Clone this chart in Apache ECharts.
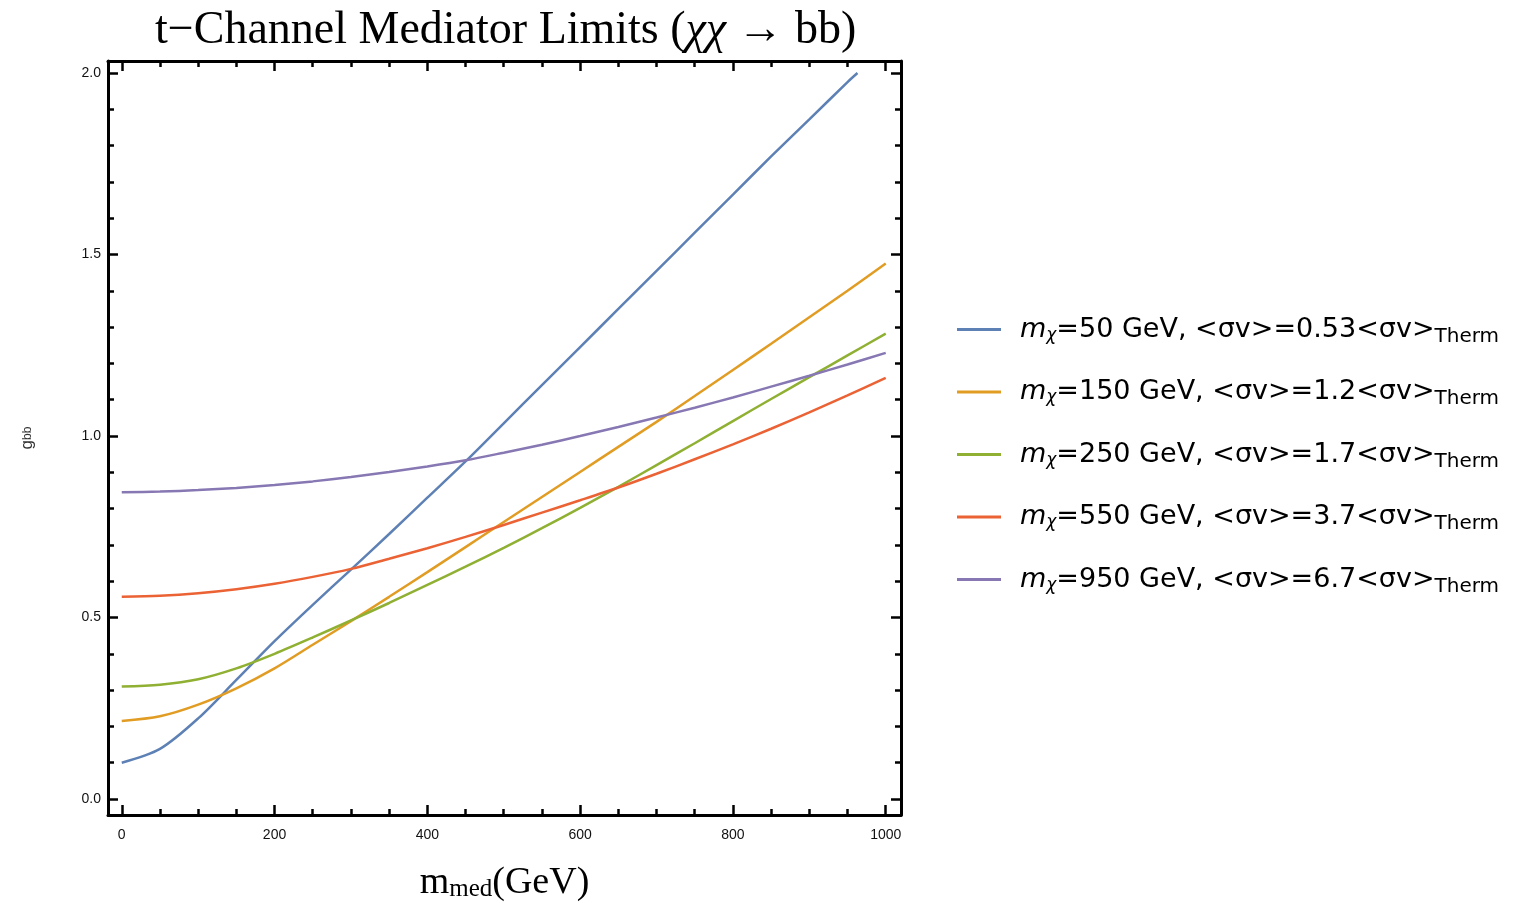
<!DOCTYPE html>
<html>
<head>
<meta charset="utf-8">
<title>t-Channel Mediator Limits</title>
<script src="https://cdn.jsdelivr.net/npm/echarts@6/dist/echarts.min.js"></script>
<style>
  html, body { margin: 0; padding: 0; background: #fff; }
  #chart { width: 1531px; height: 903px; }
</style>
</head>
<body>
<div id="chart"></div>
<script>
// m_med values (GeV)
var mMed = [0, 50, 100, 150, 200, 250, 300, 350, 400, 450, 500, 550, 600, 650, 700, 750, 800, 850, 900, 950, 1000];
// the mx=50 curve stops at the top of the frame
var mMedBlue = [0, 50, 100, 150, 200, 250, 300, 350, 400, 450, 500, 550, 600, 650, 700, 750, 800, 850, 900, 950, 963];

var g50  = [0.10, 0.138, 0.222, 0.328, 0.435, 0.535, 0.632, 0.73, 0.83, 0.93, 1.035, 1.14, 1.245, 1.35, 1.455, 1.56, 1.665, 1.77, 1.872, 1.975, 2.0];
var g150 = [0.215, 0.228, 0.26, 0.305, 0.36, 0.425, 0.49, 0.557, 0.625, 0.694, 0.763, 0.832, 0.901, 0.97, 1.039, 1.11, 1.182, 1.254, 1.327, 1.40, 1.475];
var g250 = [0.31, 0.315, 0.33, 0.36, 0.40, 0.445, 0.492, 0.54, 0.59, 0.64, 0.692, 0.746, 0.802, 0.86, 0.92, 0.98, 1.041, 1.102, 1.162, 1.222, 1.282];
var g550 = [0.557, 0.56, 0.567, 0.578, 0.593, 0.612, 0.634, 0.662, 0.691, 0.722, 0.755, 0.789, 0.823, 0.858, 0.896, 0.936, 0.977, 1.02, 1.065, 1.112, 1.16];
var g950 = [0.845, 0.847, 0.851, 0.857, 0.865, 0.875, 0.887, 0.901, 0.916, 0.933, 0.954, 0.976, 1.0, 1.025, 1.051, 1.078, 1.106, 1.136, 1.166, 1.197, 1.229];

var mChi = ['50', '150', '250', '550', '950'];
var sigmaRatio = ['0.53', '1.2', '1.7', '3.7', '6.7'];
var colors = ['#5E81B5', '#E19C24', '#8FB032', '#EB6235', '#8778B3'];

var xMajor = [0, 200, 400, 600, 800, 1000];
var xMinor = [50, 100, 150, 250, 300, 350, 450, 500, 550, 650, 700, 750, 850, 900, 950];
var yMajor = [0, 0.5, 1.0, 1.5, 2.0];
var yMinor = [0.1, 0.2, 0.3, 0.4, 0.6, 0.7, 0.8, 0.9, 1.1, 1.2, 1.3, 1.4, 1.6, 1.7, 1.8, 1.9];

function pairs(xs, ys) {
    var out = [];
    for (var i = 0; i < xs.length; i++) out.push([xs[i], ys[i]]);
    return out;
}

var curves = [
    pairs(mMedBlue, g50),
    pairs(mMed, g150),
    pairs(mMed, g250),
    pairs(mMed, g550),
    pairs(mMed, g950)
];

var names = mChi.map(function (m) { return 'mx' + m; });

var series = curves.map(function (d, i) {
    return {
        name: names[i],
        type: 'line',
        data: d,
        smooth: 0.3,
        showSymbol: false,
        xAxisIndex: 0,
        yAxisIndex: 0,
        lineStyle: { color: colors[i], width: 2.5 },
        itemStyle: { color: colors[i] }
    };
});

var XMIN = -18, XMAX = 1020, YMIN = -0.044, YMAX = 2.033;
var SANS = 'Arial, Liberation Sans, sans-serif';
var SERIF = 'Liberation Serif, Times New Roman, serif';

function xAx(pos, major, showLine) {
    return {
        type: 'value', position: pos, min: XMIN, max: XMAX,
        axisLine: { show: showLine, onZero: false, lineStyle: { color: '#000', width: 3 } },
        axisTick: { show: true, inside: true, length: major ? 10 : 6,
                    customValues: major ? xMajor : xMinor,
                    lineStyle: { color: '#000', width: 2.5 } },
        axisLabel: (pos === 'bottom' && major) ? {
            show: true, customValues: xMajor, margin: 13,
            fontFamily: SANS, fontSize: 14, color: '#111',
            formatter: function (v) { return String(v); }
        } : { show: false },
        splitLine: { show: false }
    };
}
function yAx(pos, major, showLine) {
    return {
        type: 'value', position: pos, min: YMIN, max: YMAX,
        axisLine: { show: showLine, onZero: false, lineStyle: { color: '#000', width: 3 } },
        axisTick: { show: true, inside: true, length: major ? 10 : 6,
                    customValues: major ? yMajor : yMinor,
                    lineStyle: { color: '#000', width: 2.5 } },
        axisLabel: (pos === 'left' && major) ? {
            show: true, customValues: yMajor, margin: 7,
            fontFamily: SANS, fontSize: 14, color: '#111',
            formatter: function (v) { return v.toFixed(1); }
        } : { show: false },
        splitLine: { show: false }
    };
}

var xAxes = [xAx('bottom', true, true), xAx('bottom', false, false), xAx('top', true, true), xAx('top', false, false)];
xAxes[0].name = '{m|m}{s|med}{m|(GeV)}';
xAxes[0].nameLocation = 'middle';
xAxes[0].nameGap = 48;
xAxes[0].nameTextStyle = {
    rich: {
        m: { fontFamily: SERIF, fontSize: 38, color: '#000', height: 40, verticalAlign: 'middle' },
        s: { fontFamily: SERIF, fontSize: 25, color: '#000', height: 40, verticalAlign: 'bottom', padding: [0, 0, -6, 0] }
    }
};

var yAxes = [yAx('left', true, true), yAx('left', false, false), yAx('right', true, true), yAx('right', false, false)];
yAxes[0].name = 'g{s|bb}';
yAxes[0].nameLocation = 'middle';
yAxes[0].nameRotate = 90;
yAxes[0].nameGap = 72;
yAxes[0].nameTextStyle = {
    fontFamily: SANS, fontSize: 17, color: '#333',
    rich: { s: { fontFamily: SANS, fontSize: 12, color: '#333' } }
};

var option = {
    backgroundColor: '#fff',
    animation: false,
    title: {
        text: '{n|t\u2212Channel Mediator Limits (}{i|\u03c7\u03c7}{n| \u2192 bb)}',
        left: 150,
        top: 3,
        textStyle: {
            fontWeight: 'normal',
            rich: {
                n: { fontFamily: SERIF, fontSize: 46, fontWeight: 'normal', color: '#000' },
                i: { fontFamily: SERIF, fontSize: 46, fontWeight: 'normal', fontStyle: 'italic', color: '#000' }
            }
        }
    },
    grid: { left: 108, right: 630, top: 61, bottom: 88, containLabel: false, outerBoundsMode: 'none' },
    xAxis: xAxes,
    yAxis: yAxes,
    legend: {
        orient: 'vertical',
        left: 952,
        top: 311,
        itemWidth: 44,
        itemHeight: 3,
        itemGap: 32,
        icon: 'rect',
        data: names,
        formatter: function (name) {
            var i = names.indexOf(name);
            return '{m|m}{c|\u03c7}{t|=' + mChi[i] + ' GeV, <\u03c3v>=' + sigmaRatio[i] + '<\u03c3v>}{s|Therm}';
        },
        textStyle: {
            padding: [0, 0, 0, 14],
            rich: {
                m: { fontFamily: 'DejaVu Sans', fontSize: 27, fontStyle: 'italic', color: '#000', height: 32, verticalAlign: 'middle' },
                c: { fontFamily: 'DejaVu Sans', fontSize: 17, fontStyle: 'italic', color: '#000', height: 32, verticalAlign: 'bottom', padding: [0, 0, -6, 0] },
                t: { fontFamily: 'DejaVu Sans', fontSize: 27, color: '#000', height: 32, verticalAlign: 'middle' },
                s: { fontFamily: 'DejaVu Sans', fontSize: 20, color: '#000', height: 32, verticalAlign: 'bottom', padding: [0, 0, -7, 0] }
            }
        }
    },
    series: series
};

var myChart = echarts.init(document.getElementById('chart'));
myChart.setOption(option);
</script>
</body>
</html>
